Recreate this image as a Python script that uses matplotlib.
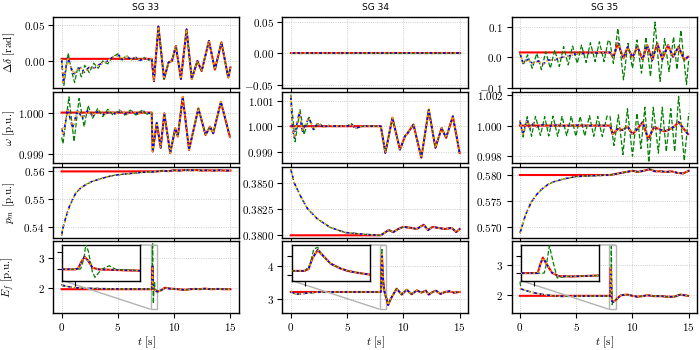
import numpy as np
import matplotlib
matplotlib.use("Agg")
import matplotlib.pyplot as plt
from mpl_toolkits.axes_grid1.inset_locator import mark_inset

plt.rcParams["mathtext.fontset"] = "cm"
plt.rcParams["font.family"] = ["cmr10", "DejaVu Serif"]
plt.rcParams["axes.formatter.use_mathtext"] = True
plt.rcParams["font.size"] = 8

titles = ["SG 33", "SG 34", "SG 35"]
ylabels = [r"$\Delta\delta$ [rad]", r"$\omega$ [p.u.]",
           r"$p_m$ [p.u.]", r"$E_f$ [p.u.]"]
t_event = 8.0

# ---------------- SG 33 ----------------
d33_ref = 0.003
d33_t_pre = [0, 0.15, 0.35, 0.53, 0.8, 1.1, 1.4, 1.7, 2.0, 2.4, 2.9, 3.3, 3.9, 4.5, 5.1, 5.4, 5.8, 6.2, 6.6, 7.0, 7.4, 7.8]
d33_pre = [0.003, -0.032, -0.012, 0.005, -0.008, -0.018, -0.012, -0.009, -0.016, -0.009, -0.010, -0.005, -0.002, 0.005, 0.008, 0.002, 0.006, 0.002, 0.005, 0.001, 0.004, 0.002]
d33_tg_pre = [0, 0.2, 0.58, 0.85, 1.15, 1.45, 1.75, 2.05, 2.45, 2.85, 3.25, 3.65, 4.1, 4.55, 5.0, 5.35, 5.75, 6.15, 6.55, 6.95, 7.35, 7.75]
d33_g_pre = [0.003, -0.034, 0.011, -0.012, -0.030, -0.008, -0.022, -0.006, -0.016, -0.003, -0.010, 0.000, -0.004, 0.006, 0.010, 0.000, 0.008, 0.001, 0.006, 0.000, 0.005, 0.001]
d33_t_post = [8.0, 8.2, 8.6, 9.1, 9.5, 9.8, 10.15, 10.6, 11.1, 11.56, 12.06, 12.44, 13.09, 13.62, 14.2, 14.8, 15.0]
d33_post = [0.003, -0.028, 0.048, -0.025, -0.002, 0.000, 0.021, -0.025, 0.044, -0.025, 0.000, -0.014, 0.028, -0.012, 0.026, -0.023, -0.009]

w33_ref = 1.0
w33_t_pre = [0, 0.15, 0.53, 0.97, 1.4, 1.85, 2.3, 2.8, 3.3, 3.8, 4.3, 4.8, 5.3, 5.8, 6.3, 6.8, 7.3, 7.8]
w33_pre = [0.99962, 0.99946, 1.00010, 0.99962, 1.00006, 0.99986, 1.00004, 0.99992, 1.00005, 0.99994, 1.00004, 0.99996, 1.00005, 0.99995, 1.00004, 0.99996, 1.00003, 0.99998]
w33_tg_pre = [0, 0.12, 0.65, 1.1, 1.55, 2.0, 2.35, 2.75, 3.2, 3.65, 4.1, 4.6, 5.1, 5.6, 6.1, 6.6, 7.1, 7.6]
w33_g_pre = [0.99940, 0.99925, 1.00038, 0.99930, 1.00034, 0.99966, 1.00017, 0.99986, 1.00010, 0.99990, 1.00008, 0.99993, 1.00007, 0.99994, 1.00006, 0.99994, 1.00005, 0.99996]
w33_t_post = [8.0, 8.09, 8.45, 8.8, 9.12, 9.65, 10.09, 10.32, 10.76, 11.32, 12.15, 12.79, 13.18, 13.47, 14.15, 14.94]
w33_post = [1.0, 0.99906, 0.99975, 0.99915, 0.99998, 0.99902, 0.99962, 0.99942, 1.00038, 0.99910, 1.00010, 0.99946, 0.99966, 0.99950, 1.00026, 0.99942]

pm33_ref = 0.56
pm33_t_pre = [0, 0.09, 0.38, 0.68, 1.0, 1.26, 1.7, 2.15, 2.7, 3.32, 4.0, 4.65, 5.5, 6.26, 7.0, 7.88]
pm33_pre = [0.5372, 0.5394, 0.5437, 0.5474, 0.5502, 0.5523, 0.5541, 0.5553, 0.5564, 0.5572, 0.5580, 0.5586, 0.5590, 0.5593, 0.5596, 0.5598]
pm33_t_post = [8.0, 8.5, 9.0, 9.5, 10.0, 10.5, 11.0, 11.5, 12.0, 12.5, 13.0, 13.5, 14.0, 14.5, 15.0]
pm33_post = [0.5598, 0.5600, 0.5602, 0.5601, 0.5604, 0.5603, 0.5605, 0.5604, 0.5605, 0.5603, 0.5604, 0.5603, 0.5604, 0.5603, 0.5603]

ef33_ref = 1.95
ef33_t_pre = [0, 0.4, 1.3, 2.4, 4.2, 6.0, 7.9]
ef33_pre = [2.10, 2.05, 2.00, 1.98, 1.965, 1.96, 1.96]
ef33_tg_pre = [0, 0.1, 0.5, 1.3, 2.4, 4.2, 6.0, 7.9]
ef33_g_pre = [2.12, 2.06, 2.04, 2.00, 1.98, 1.965, 1.96, 1.96]
ef33_t_post = [8.0, 8.02, 8.045, 8.07, 8.1, 8.13, 8.18, 8.25, 8.35, 8.5, 8.6, 8.9, 9.2, 9.6, 10.1, 10.6, 11.0, 11.4, 11.85, 12.3, 12.7, 13.3, 13.9, 14.4, 15.0]
ef33_post = [1.96, 2.0, 2.4, 2.71, 2.45, 2.05, 1.95, 1.93, 1.9, 1.87, 1.88, 1.93, 2.0, 1.97, 1.96, 1.94, 1.93, 1.95, 1.96, 1.95, 1.97, 1.95, 1.96, 1.95, 1.95]
ef33_tg_post = [8.0, 8.04, 8.065, 8.08, 8.1, 8.13, 8.15, 8.2, 8.26, 8.31, 8.4, 8.5]
ef33_g_post = [1.96, 1.98, 2.6, 3.5, 3.0, 1.8, 1.47, 1.95, 2.17, 1.95, 1.92, 1.87]

# ---------------- SG 34 ----------------
d34_ref = 0.0
d34_t_pre = [0, 7.9]
d34_pre = [0.0, 0.0]
d34_t_post = [8.0, 15.0]
d34_post = [0.0, 0.0]

w34_ref = 1.0
w34_t_pre = [0, 0.15, 0.3, 0.74, 1.03, 1.6, 2.0, 2.4, 2.9, 3.4, 4.0, 5.0, 5.4, 5.7, 6.5, 7.5]
w34_pre = [1.00118, 0.99993, 0.99954, 1.00052, 0.99980, 1.00033, 0.99987, 1.00013, 0.99996, 1.00003, 1.0, 1.0, 1.00009, 0.99992, 1.0, 1.0]
w34_tg_pre = [0, 0.38, 0.82, 1.18, 1.62, 2.06, 2.5, 2.94, 3.4, 4.0, 5.0, 5.4, 5.7, 6.5, 7.5]
w34_g_pre = [1.00124, 0.99939, 1.00065, 0.99967, 1.00035, 0.99987, 1.00013, 0.99996, 1.00003, 1.0, 1.0, 1.00010, 0.99992, 1.0, 1.0]
w34_t_post = [8.0, 8.4, 9.03, 9.7, 10.15, 10.4, 10.9, 11.6, 12.26, 12.85, 13.4, 13.8, 14.4, 15.0]
w34_post = [1.0, 0.99895, 1.00033, 0.99908, 0.99961, 0.99974, 1.00007, 0.99876, 1.00065, 0.99915, 0.99993, 0.99954, 1.00039, 0.99895]

pm34_ref = 0.38
pm34_t_pre = [0, 0.3, 0.88, 1.47, 2.35, 3.5, 4.85, 6.5, 7.9]
pm34_pre = [0.3863, 0.3850, 0.3837, 0.38255, 0.38157, 0.38075, 0.38026, 0.3801, 0.3800]
pm34_t_post = [8.0, 8.7, 9.1, 9.55, 10.0, 10.7, 11.2, 11.8, 12.2, 12.6, 13.1, 13.7, 14.3, 14.7, 15.0]
pm34_post = [0.3800, 0.3805, 0.3803, 0.3806, 0.3808, 0.3807, 0.3806, 0.3810, 0.3805, 0.3808, 0.3807, 0.3806, 0.3807, 0.3803, 0.3806]

ef34_ref = 3.2
ef34_t_pre = [0, 0.44, 0.9, 1.5, 2.3, 4.0, 6.0, 7.9]
ef34_pre = [3.22, 3.13, 3.14, 3.17, 3.19, 3.2, 3.2, 3.2]
ef34_t_post = [8.0, 8.03, 8.06, 8.1, 8.14, 8.2, 8.27, 8.33, 8.42, 8.5, 8.65, 8.9, 9.4, 9.86, 10.3, 10.74, 11.2, 11.6, 12.0, 12.25, 12.6, 12.9, 13.3, 13.7, 14.1, 14.5, 15.0]
ef34_post = [3.2, 3.3, 3.9, 4.35, 4.05, 3.6, 3.35, 3.2, 3.08, 3.0, 2.8, 3.0, 3.3, 3.12, 3.27, 3.13, 3.25, 3.18, 3.24, 3.12, 3.2, 3.24, 3.14, 3.2, 3.22, 3.18, 3.2]
ef34_tg_post = [8.0, 8.04, 8.07, 8.1, 8.13, 8.2]
ef34_g_post = [3.2, 3.5, 4.4, 4.5, 4.1, 3.6]

# ---------------- SG 35 ----------------
d35_ref = 0.016
d35_t_pre = [0, 0.3, 0.68, 1.2, 1.6, 2.06, 2.5, 3.1, 3.7, 4.26, 5.0, 6.0, 7.2, 7.94]
d35_pre = [0.013, -0.020, -0.007, -0.022, -0.012, -0.023, -0.009, -0.009, 0.000, 0.004, 0.011, 0.013, 0.015, 0.016]
d35_tg_pre = [0, 0.29, 0.68, 1.09, 1.5, 1.91, 2.29, 2.7, 3.09, 3.5, 3.88, 4.29, 4.68, 5.09, 5.47, 5.88, 6.26, 6.68, 7.06, 7.47, 7.85]
d35_g_pre = [0.013, -0.025, 0.008, -0.036, 0.013, -0.041, 0.018, -0.036, 0.024, -0.030, 0.035, -0.025, 0.037, -0.020, 0.040, -0.017, 0.048, -0.014, 0.051, -0.014, 0.057]
d35_t_post = [8.0, 8.3, 8.7, 9.2, 9.56, 10.0, 10.44, 10.9, 11.3, 11.76, 12.2, 12.65, 13.15, 13.6, 14.1, 14.6, 14.94]
d35_post = [0.016, 0.000, 0.046, -0.003, 0.033, 0.000, 0.035, -0.007, 0.040, -0.009, 0.046, -0.006, 0.040, 0.002, 0.035, -0.009, 0.002]
d35_tg_post = [8.0, 8.3, 8.7, 9.2, 9.6, 10.0, 10.4, 10.8, 11.2, 11.6, 12.0, 12.45, 12.85, 13.25, 13.65, 13.95, 14.3, 14.8, 15.0]
d35_g_post = [0.050, -0.020, 0.095, -0.074, 0.046, -0.036, 0.057, -0.052, 0.067, -0.063, 0.116, -0.079, 0.062, -0.047, 0.067, -0.040, 0.089, -0.090, -0.005]

w35_ref = 1.0
w35_t_pre = [0, 0.24, 0.6, 0.9, 1.2, 1.5, 1.9, 2.5, 3.2, 4.0, 5.0, 6.0, 7.0, 7.94]
w35_pre = [1.00034, 0.99944, 1.00034, 0.99978, 1.00016, 0.99989, 1.00007, 0.99993, 1.00003, 0.99998, 1.00002, 0.99999, 1.0, 1.0]
w35_tg_pre = [0, 0.29, 0.65, 1.03, 1.38, 1.82, 2.2, 2.56, 2.94, 3.35, 3.74, 4.15, 4.56, 4.97, 5.35, 5.76, 6.18, 6.56, 6.91, 7.32, 7.74]
w35_g_pre = [1.00022, 0.99925, 1.00058, 0.99930, 1.00060, 0.99935, 1.00058, 0.99932, 1.00062, 0.99930, 1.00060, 0.99934, 1.00062, 0.99930, 1.00060, 0.99932, 1.00064, 0.99930, 1.00060, 0.99928, 1.00062]
w35_t_post = [8.0, 8.24, 8.68, 9.1, 9.56, 10.0, 10.44, 10.9, 11.4, 11.9, 12.35, 12.8, 13.2, 13.7, 14.1, 14.56, 14.94]
w35_post = [1.0, 0.99944, 0.99978, 0.99971, 0.99993, 0.99944, 0.99978, 1.00023, 0.99910, 0.99989, 0.99978, 0.99962, 0.99971, 0.99993, 1.00023, 0.99978, 0.99944]
w35_tg_post = [8.0, 8.35, 8.75, 9.15, 9.55, 10.0, 10.4, 10.75, 11.1, 11.45, 11.85, 12.3, 12.65, 13.0, 13.4, 13.75, 14.1, 14.6, 15.0]
w35_g_post = [1.0006, 0.9987, 1.0007, 0.9981, 1.0011, 0.9980, 1.0008, 0.9985, 1.0012, 0.9976, 1.0012, 0.9982, 1.0012, 0.9983, 1.0011, 0.9983, 1.0019, 0.9977, 1.0008]

pm35_ref = 0.58
pm35_t_pre = [0, 0.5, 1.0, 1.5, 2.0, 2.5, 3.0, 4.0, 5.0, 6.0, 7.0, 7.9]
pm35_pre = [0.5689, 0.5724, 0.5748, 0.5763, 0.5774, 0.5782, 0.5787, 0.5793, 0.5797, 0.5798, 0.5799, 0.5800]
pm35_t_post = [8.0, 8.5, 9.0, 9.5, 10.0, 10.5, 11.0, 11.5, 12.0, 12.5, 13.0, 13.5, 14.0, 14.5, 15.0]
pm35_post = [0.5800, 0.5802, 0.5804, 0.5806, 0.5808, 0.5806, 0.5808, 0.5811, 0.5807, 0.5807, 0.5806, 0.5807, 0.5804, 0.5803, 0.5808]

ef35_ref = 1.98
ef35_t_pre = [0, 0.74, 1.6, 2.5, 3.7, 5.5, 7.9]
ef35_pre = [2.22, 2.13, 2.05, 2.00, 1.96, 1.97, 1.97]
ef35_tg_pre = [0, 0.1, 0.74, 1.6, 2.5, 3.7, 5.5, 7.9]
ef35_g_pre = [2.45, 2.20, 2.13, 2.05, 2.00, 1.96, 1.97, 1.97]
ef35_t_post = [8.0, 8.03, 8.05, 8.07, 8.1, 8.14, 8.19, 8.3, 8.5, 8.97, 9.56, 10.0, 10.44, 10.9, 11.3, 11.9, 12.5, 13.1, 13.7, 14.26, 14.94]
ef35_post = [1.97, 1.98, 2.5, 2.9, 2.5, 2.0, 1.8, 1.78, 1.84, 2.0, 2.02, 1.98, 1.95, 1.97, 2.0, 1.97, 1.97, 1.95, 1.95, 2.02, 1.98]
ef35_tg_post = [8.0, 8.08, 8.1, 8.12, 8.15, 8.18, 8.25, 8.3]
ef35_g_post = [1.97, 1.98, 2.6, 3.6, 2.6, 1.69, 1.78, 1.78]


def build(ref, t_pre, pre, t_post, post, tg_pre=None, g_pre=None, tg_post=None, g_post=None):
    t_post = np.asarray(t_post, float)
    post = np.asarray(post, float)
    # red: measured value, flat before the event, then follows the response
    t_red = np.concatenate([[0.0, t_post[0]], t_post[1:]])
    v_red = np.concatenate([[ref, ref], post[1:]])
    t_est = np.concatenate([t_pre, t_post])
    v_est = np.concatenate([pre, post])
    if tg_pre is None:
        tg_pre, g_pre = t_pre, pre
    if tg_post is None:
        tg_post, g_post = [], []
    last = max(list(tg_pre) + list(tg_post))
    keep = t_post > last
    t_g = np.concatenate([tg_pre, tg_post, t_post[keep]])
    v_g = np.concatenate([g_pre, g_post, post[keep]])
    return (t_red, v_red), (t_est, v_est), (t_g, v_g)


panels = [
    [build(d33_ref, d33_t_pre, d33_pre, d33_t_post, d33_post, d33_tg_pre, d33_g_pre),
     build(d34_ref, d34_t_pre, d34_pre, d34_t_post, d34_post),
     build(d35_ref, d35_t_pre, d35_pre, d35_t_post, d35_post, d35_tg_pre, d35_g_pre, d35_tg_post, d35_g_post)],
    [build(w33_ref, w33_t_pre, w33_pre, w33_t_post, w33_post, w33_tg_pre, w33_g_pre),
     build(w34_ref, w34_t_pre, w34_pre, w34_t_post, w34_post, w34_tg_pre, w34_g_pre),
     build(w35_ref, w35_t_pre, w35_pre, w35_t_post, w35_post, w35_tg_pre, w35_g_pre, w35_tg_post, w35_g_post)],
    [build(pm33_ref, pm33_t_pre, pm33_pre, pm33_t_post, pm33_post),
     build(pm34_ref, pm34_t_pre, pm34_pre, pm34_t_post, pm34_post),
     build(pm35_ref, pm35_t_pre, pm35_pre, pm35_t_post, pm35_post)],
    [build(ef33_ref, ef33_t_pre, ef33_pre, ef33_t_post, ef33_post, ef33_tg_pre, ef33_g_pre, ef33_tg_post, ef33_g_post),
     build(ef34_ref, ef34_t_pre, ef34_pre, ef34_t_post, ef34_post, None, None, ef34_tg_post, ef34_g_post),
     build(ef35_ref, ef35_t_pre, ef35_pre, ef35_t_post, ef35_post, ef35_tg_pre, ef35_g_pre, ef35_tg_post, ef35_g_post)],
]

ylims = [[(-0.038, 0.061), (-0.056, 0.057), (-0.102, 0.132)],
         [(0.99878, 1.0005), (0.99855, 1.00135), (0.99755, 1.0022)],
         [(0.5363, 0.5617), (0.37976, 0.38653), (0.568, 0.5816)],
         [(1.17, 3.55), (2.57, 4.75), (1.43, 3.77)]]
yticks = [[([0, 0.05], 2), ([-0.05, 0, 0.05], 2), ([-0.1, 0, 0.1], 1)],
          [([0.999, 1.0], 3), ([0.999, 1.0, 1.001], 3), ([0.998, 1.0, 1.002], 3)],
          [([0.54, 0.55, 0.56], 2), ([0.38, 0.3825, 0.385], 4), ([0.57, 0.575, 0.58], 3)],
          [([2, 3], 0), ([3, 4], 0), ([2, 3], 0)]]
ins_ylims = [(1.28, 3.42), (2.67, 4.63), (1.54, 3.65)]
ins_yticks = [[2, 3], [3, 4], [2, 3]]


def draw(ax, red, est, grn):
    ax.plot(*red, color="red", lw=1.5, zorder=2)
    ax.plot(*grn, color="green", ls="--", lw=0.9, zorder=3)
    ax.plot(*est, color="blue", ls="--", lw=1.1, dashes=(2.5, 2.0), zorder=4)
    ax.plot(*est, color="orange", ls=":", lw=1.2, zorder=5)


fig = plt.figure(figsize=(7, 3.5), dpi=100)
gs = fig.add_gridspec(4, 3, left=0.076, right=0.996, top=0.951, bottom=0.107,
                      wspace=0.234, hspace=0.05)

for r in range(4):
    for c in range(3):
        ax = fig.add_subplot(gs[r, c])
        red, est, grn = panels[r][c]
        draw(ax, red, est, grn)
        ax.set_xlim(-0.75, 15.75)
        ax.set_ylim(*ylims[r][c])
        ax.set_xticks([0, 5, 10, 15])
        ticks, nd = yticks[r][c]
        ax.set_yticks(ticks)
        ax.set_yticklabels([f"${v:.{nd}f}$" for v in ticks])
        ax.tick_params(pad=2.5)
        ax.grid(True, ls=":", color="0.75", lw=0.6)
        for sp in ax.spines.values():
            sp.set_linewidth(1.0)
        if r == 3:
            ax.set_xticklabels(["$0$", "$5$", "$10$", "$15$"])
            ax.set_xlabel(r"$t$ [s]", labelpad=1)
            axins = ax.inset_axes([0.05, 0.45, 0.42, 0.5])
            draw(axins, red, est, grn)
            axins.set_xlim(7.9, 8.5)
            axins.set_ylim(*ins_ylims[c])
            axins.set_xticks([8])
            axins.set_yticks(ins_yticks[c])
            axins.set_xticklabels([])
            axins.set_yticklabels([])
            for sp in axins.spines.values():
                sp.set_linewidth(1.0)
            mark_inset(ax, axins, loc1=1, loc2=3, fc="none", ec="0.7", lw=1.0)
        else:
            ax.set_xticklabels([])
        if r == 0:
            ax.set_title(titles[c], fontsize=6.5, pad=5, family="DejaVu Sans")
        if c == 0:
            ax.set_ylabel(ylabels[r])
            ax.yaxis.set_label_coords(-0.195, 0.5)

fig.savefig("out.png", dpi=100)
